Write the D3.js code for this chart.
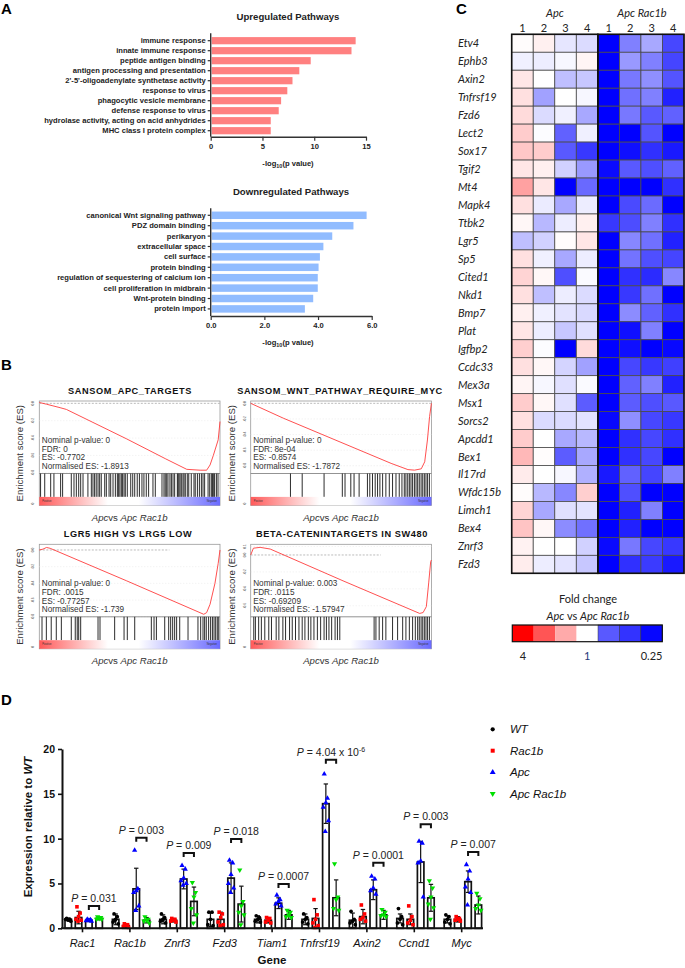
<!DOCTYPE html>
<html><head><meta charset="utf-8">
<script src="https://cdn.jsdelivr.net/npm/d3@7"></script>
<style>body{margin:0;background:#fff}svg{display:block}</style>
</head><body>
<svg id="c" width="685" height="968"></svg>
<script>
// ---------------- DATA ----------------
// Panel A
const upPathways = ["immune response","innate immune response","peptide antigen binding","antigen processing and presentation","2'-5'-oligoadenylate synthetase activity","response to virus","phagocytic vesicle membrane","defense response to virus","hydrolase activity, acting on acid anhydrides","MHC class I protein complex"];
const upValues = [14.0, 13.6, 9.66, 8.56, 7.9, 7.4, 6.8, 6.57, 5.8, 5.8];
const upTicks = [0, 5, 10, 15];
const downPathways = ["canonical Wnt signaling pathway","PDZ domain binding","perikaryon","extracellular space","cell surface","protein binding","regulation of sequestering of calcium ion","cell proliferation in midbrain","Wnt-protein binding","protein import"];
const downValues = [5.81, 5.32, 4.53, 4.2, 4.07, 4.02, 3.99, 3.99, 3.82, 3.51];
const downTicks = [0, 2, 4, 6];

// Panel B (GSEA) - rank position in % of list, enrichment score
const gseaTitles = ["SANSOM_APC_TARGETS","SANSOM_WNT_PATHWAY_REQUIRE_MYC","LGR5 HIGH VS LRG5 LOW","BETA-CATENINTARGETS  IN SW480"];
const gseaStats = [
  ["Nominal p-value: 0","FDR: 0","ES: -0.7702","Normalised ES: -1.8913"],
  ["Nominal p-value: 0","FDR: 8e-04","ES: -0.8574","Normalised ES: -1.7872"],
  ["Nominal p-value: 0","FDR: .0015","ES: -0.77257","Normalised ES: -1.739"],
  ["Nominal p-value: 0.003","FDR: .0115","ES: -0.69209","Normalised ES: -1.57947"]];
const es1X = [0, 4, 11.5, 15, 48.4, 70, 81.6, 89, 92.6, 94.5, 96.3, 99, 100];
const es1Y = [0.01, -0.01, -0.05, -0.07, -0.41, -0.64, -0.76, -0.77, -0.77, -0.71, -0.6, -0.42, -0.21];
const es2X = [0, 18, 77.7, 87, 90.7, 94.4, 96.3, 97.8, 99, 100];
const es2Y = [0, -0.19, -0.77, -0.85, -0.857, -0.84, -0.75, -0.47, -0.17, 0];
const es3X = [0, 2, 4, 6, 48.4, 91, 92.6, 94.5, 97.2, 99, 100];
const es3Y = [0, 0.01, 0.03, 0.02, -0.37, -0.77, -0.75, -0.65, -0.40, -0.16, 0];
const es4X = [0, 1.5, 5.2, 10.8, 51.6, 93.5, 95.4, 97.2, 98.5, 99.6, 100];
const es4Y = [0, 0.08, 0.09, 0.07, -0.31, -0.69, -0.68, -0.61, -0.33, -0.08, -0.06];
const hits1 = [0.7,3.0,6.3,8.1,11.8,12.9,17.7,19.2,20.5,21.8,22.9,24.2,26.9,28.8,29.7,30.6,31.5,32.5,33.4,34.3,36.2,37.1,38.6,39.5,40.8,42.1,43.2,43.9,44.6,45.4,46.1,46.9,47.6,48.7,50.6,51.7,52.8,54.2,55.4,56.8,57.9,59.2,60.5,62.9,64.2,67.9,69.0,69.7,70.5,71.2,72.3,73.1,74.0,74.9,76.4,76.8,77.3,77.9,78.6,79.5,80.1,80.8,81.9,82.7,84.1,85.6,86.3,87.5,88.6,89.7,90.6,91.5,93.4,94.3,95.2,95.8,96.3,97.0,98.0,98.9];
const hits2 = [22.0,28.5,40.6,50.7,52.2,55.4,57.2,60.0,64.6,65.9,67.4,68.9,70.2,71.5,73.0,74.8,76.7,78.5,80.4,82.2,83.7,85.0,85.9,86.9,87.8,88.7,89.6,90.6,91.5,92.4,93.3,94.3,95.2,96.1,97.0,97.9,98.9];
const hits3 = [1.5,3.9,6.6,9.4,12.2,17.7,19.9,21.0,21.8,22.9,32.5,33.6,41.7,46.9,48.7,52.8,62.0,63.5,64.8,69.4,71.6,72.7,73.8,74.9,76.0,77.7,82.3,87.8,89.3,90.6,91.5,92.4,93.7,94.8,95.8,96.7,97.6,98.5,99.3];
const hits4 = [1.7,2.6,4.4,5.9,7.8,10.0,11.5,14.1,15.6,17.8,19.3,21.5,23.0,24.8,26.7,28.5,30.0,31.9,33.3,35.0,36.9,38.7,40.6,41.9,43.3,44.8,46.7,48.0,49.3,68.3,69.3,71.1,73.0,74.8,78.5,81.3,84.1,85.9,87.8,89.6,91.1,92.4,93.3,94.3,95.2,96.1,97.0,97.9,98.9];

// Panel C heatmap: log2 fold change per sample (Apc 1-4, Apc Rac1b 1-4)
const heatGenes = ["Etv4","Ephb3","Axin2","Tnfrsf19","Fzd6","Lect2","Sox17","Tgif2","Mt4","Mapk4","Ttbk2","Lgr5","Sp5","Cited1","Nkd1","Bmp7","Plat","Igfbp2","Ccdc33","Mex3a","Msx1","Sorcs2","Apcdd1","Bex1","Il17rd","Wfdc15b","Limch1","Bex4","Znrf3","Fzd3"];
const heatSamples = ["Apc 1","Apc 2","Apc 3","Apc 4","Apc Rac1b 1","Apc Rac1b 2","Apc Rac1b 3","Apc Rac1b 4"];
const heatValues = [
  [0.02,0.12,-0.2,-0.28,-2,-1,-0.68,-1.44],
  [-0.12,-0.14,-0.06,0.08,-2,-0.8,-1,-1.46],
  [0.2,0,-0.5,-0.44,-2,-1.06,-0.88,-1.34],
  [0.24,-0.74,0,-0.06,-2,-1.12,-1,-1.74],
  [0.28,-0.28,-0.12,-0.68,-2,-1.06,-1.3,-1.24],
  [0.4,-0.02,-1.24,-0.12,-2,-2,-1.34,-2],
  [0.44,0.4,-1.3,-1.56,-2,-1.88,-1.62,-1.8],
  [0.2,0.12,-0.36,-0.8,-1.92,-1.3,-1.38,-1.24],
  [0.74,0.2,-2,-1.18,-2,-2,-2,-1.62],
  [0.24,-0.16,-0.68,-0.14,-2,-1.42,-1.16,-2],
  [0.06,-0.56,-0.14,0.12,-1.56,-1.4,-1,-1.62],
  [-0.5,-0.36,0.02,0.2,-2,-0.94,-1.12,-1.74],
  [0.24,-0.12,-0.68,-0.14,-2,-1.1,-1.38,-1.46],
  [0.34,0.06,-1.38,-0.04,-2,-1.62,-1.66,-0.94],
  [0.24,-0.5,-0.14,-0.28,-2,-1.56,-1.12,-2],
  [0.12,-0.12,-0.22,-0.3,-2,-0.9,-1.24,-1.62],
  [0.2,-0.14,-0.44,-0.24,-2,-1.88,-1,-2],
  [0.38,-0.02,-2,0.28,-2,-1.88,-2,-1.94],
  [0.24,0.06,-0.34,-0.74,-2,-1.44,-1.56,-1.5],
  [0.08,-0.06,-0.24,-0.04,-2,-1.24,-1,-1.74],
  [0.4,0.06,-0.24,-1.28,-2,-1.28,-1.38,-1.3],
  [0.24,-0.28,-0.28,-0.22,-1.94,-0.88,-1.44,-1.56],
  [0.4,0,-0.68,-0.56,-2,-1.62,-1.44,-1.62],
  [0.56,0.02,-1.28,-0.68,-2,-1.62,-1.44,-2],
  [0.16,0,-0.06,-0.62,-1.8,-1.24,-1.46,-1],
  [0.02,-0.56,-0.94,0.38,-2,-1.38,-2,-2],
  [0.34,-0.68,-0.24,-0.22,-2,-1.74,-1,-2],
  [0.46,0.06,-0.9,-1.12,-2,-1.74,-2,-2],
  [0.1,0,0,-0.36,-1.92,-1.06,-1.44,-1.56],
  [0.14,-0.14,-0.22,-0.44,-2,-1.62,-1.54,-1.8]];
const legendSteps = [2, 1.33, 0.67, 0, -1.3, -1.6, -1.95];
const legendLabels = ["4", "1", "0.25"];

// Panel D
const qGenes = ["Rac1","Rac1b","Znrf3","Fzd3","Tiam1","Tnfrsf19","Axin2","Ccnd1","Myc"];
const qSeries = ["WT","Rac1b","Apc","Apc Rac1b"];
const wtMean = [1.0,1.0,1.0,1.0,1.0,1.0,0.9,1.1,1.0];
const rac1bMean = [1.2,0.3,0.9,1.0,0.9,1.1,1.3,1.0,1.0];
const apcMean = [0.9,4.4,5.5,5.6,2.8,13.9,4.3,7.4,5.2];
const apcRac1bMean = [1.1,0.9,3.0,2.7,1.5,3.4,1.5,3.4,2.6];
const wtSD = [0.15,0.6,0.5,0.8,0.4,0.6,0.8,0.5,0.4];
const rac1bSD = [0.7,0.2,0.2,0.8,0.3,1.1,0.8,0.6,0.3];
const apcSD = [0.15,2.3,1.1,1.7,0.6,2.2,1.1,2.3,1.2];
const apcRac1bSD = [0.15,0.3,1.6,2.0,0.5,2.0,0.5,1.5,1.0];
const wtPts = [[1.1,1.0,0.9,1.0,0.8],[1.6,1.3,1.0,0.7,0.5,0.9],[1.6,1.2,1.0,0.8,0.6,0.9],[1.8,1.8,1.0,0.4,0.3],[1.4,1.2,1.0,0.8,0.7],[1.6,1.2,1.0,0.7,0.5],[1.9,1.0,0.8,0.6,0.4],[2.2,1.3,1.0,0.6,0.4],[1.5,1.3,1.0,0.7,0.5]];
const rac1bPts = [[2.4,1.7,1.3,1.0,0.9,0.8],[0.5,0.4,0.3,0.2,0.1],[1.1,1.0,0.9,0.8,0.7],[1.8,1.6,1.2,0.7,0.4,0.3],[1.2,1.1,0.9,0.7,0.6],[3.2,1.5,1.0,0.6,0.3,0.1],[2.6,1.6,1.2,1.0,0.8],[2.5,1.3,0.9,0.6,0.4],[1.3,1.1,1.0,0.9,0.8]];
const apcPts = [[1.0,0.95,0.9,0.85,0.8],[8.7,4.4,4.2,4.0,2.5,2.0],[7.0,6.6,5.6,5.3,5.0,4.8],[7.6,7.3,6.0,5.0,4.5,4.0],[3.7,3.2,3.0,2.7,2.5],[17.2,14.5,14.0,13.5,12.0,10.8],[5.8,5.5,4.5,4.2,3.8],[9.7,9.5,7.5,7.3,3.5],[7.1,6.4,5.5,4.6,4.0,2.6]];
const apcRac1bPts = [[1.3,1.2,1.1,1.0,1.0],[1.3,1.0,0.9,0.8,0.6],[5.1,4.0,3.5,2.2,1.5,0.6],[6.5,3.0,2.5,1.8,1.5,0.4],[2.0,1.8,1.5,1.3,1.2],[7.2,3.5,3.2,2.2,2.0],[2.1,1.8,1.5,1.4,1.3],[5.3,4.5,3.5,2.7,2.3,1.0],[3.9,3.3,2.6,2.2,2.0]];
const qTicks = [0, 5, 10, 15, 20];
const pText = ["0.031","0.003","0.009","0.018","0.0007","4.04 x 10","0.0001","0.003","0.007"];
const pExp = ["","","","","","-6","","",""];
const pBracket = [2.5,10.1,8.4,9.95,4.94,18.8,7.3,11.6,8.5];

// ---------------- DRAWING ----------------
const svg = d3.select("#c");
const SANS = "'Liberation Sans', Arial, sans-serif";
const CAL = "Lato, 'Open Sans', sans-serif";
svg.append("rect").attr("width",685).attr("height",968).attr("fill","#fff");

[["A",1,14],["B",1,370],["C",456,14],["D",1,705]].forEach(([t,x,y]) =>
  svg.append("text").attr("x",x).attr("y",y).text(t).attr("font-family",SANS)
    .attr("font-weight","bold").attr("font-size",15));

// ---- Panel A ----
function pathwayChart(cfg){
  const g = svg.append("g").attr("font-family",SANS);
  const x = d3.scaleLinear().domain([0,cfg.ticks[cfg.ticks.length-1]]).range([210.7,cfg.xRight]);
  const y = d3.scaleBand().domain(cfg.cats).range([cfg.top,cfg.bottom]).paddingInner(0.28).paddingOuter(0.14);
  g.selectAll("rect.bar").data(cfg.vals).join("rect").attr("class","bar")
    .attr("x",x(0)+1).attr("y",(d,i)=>y(cfg.cats[i]))
    .attr("width",d=>x(d)-x(0)-1).attr("height",y.bandwidth()).attr("fill",cfg.color);
  const la = g.append("g").attr("transform",`translate(${x(0)},0)`)
    .call(d3.axisLeft(y).tickSize(3).tickPadding(2).tickSizeOuter(0));
  la.select(".domain").remove();
  la.selectAll("line").attr("stroke","#333").attr("stroke-width",1.2);
  la.selectAll("text").attr("font-size",7.6).attr("font-weight","bold").attr("fill","#222").attr("font-family",SANS);
  g.append("line").attr("x1",x(0)).attr("x2",x(0)).attr("y1",cfg.axisTop).attr("y2",cfg.axisBottom)
    .attr("stroke","#333").attr("stroke-width",1.4);
  const ba = g.append("g").attr("transform",`translate(0,${cfg.axisBottom})`)
    .call(d3.axisBottom(x).tickValues(cfg.ticks).tickSize(4).tickSizeOuter(0).tickPadding(3));
  ba.select(".domain").attr("stroke","#333").attr("stroke-width",1.4);
  ba.selectAll("line").attr("stroke","#333").attr("stroke-width",1.2);
  ba.selectAll("text").attr("font-size",7.6).attr("font-weight","bold").attr("fill","#222").attr("font-family",SANS);
  g.append("text").attr("x",cfg.titleX).attr("y",cfg.titleY).attr("text-anchor","middle")
    .attr("font-size",9.6).attr("font-weight","bold").attr("fill","#222").text(cfg.title);
  const t = g.append("text").attr("x",288).attr("y",cfg.labelY).attr("text-anchor","middle")
    .attr("font-size",7.6).attr("font-weight","bold").attr("fill","#222");
  t.append("tspan").text("-log");
  t.append("tspan").text("10").attr("font-size",5.5).attr("dy",2);
  t.append("tspan").text("(p value)").attr("dy",-2);
}
pathwayChart({cats:upPathways,vals:upValues,ticks:upTicks,xRight:366,top:35.7,bottom:135.7,axisTop:33.3,axisBottom:136.7,color:"#ff8080",title:"Upregulated Pathways",titleX:288,titleY:20,labelY:166});
pathwayChart({cats:downPathways,vals:downValues,ticks:downTicks,xRight:371.7,top:210.1,bottom:314.1,axisTop:208.3,axisBottom:316,color:"#91bcff",title:"Downregulated Pathways",titleX:291,titleY:194.5,labelY:345});

// ---- Panel B ----
const defs = svg.append("defs");
const grad = defs.append("linearGradient").attr("id","rb");
[[0,"#ff5a5a"],[0.38,"#ffffff"],[0.55,"#ffffff"],[1,"#6a6aff"]].forEach(([o,c])=>
  grad.append("stop").attr("offset",o).attr("stop-color",c));

function gsea(cfg){
  const W=180.7,H1=72.5,H2=23.4,H3=8.6;
  const {x0,y0}=cfg;
  const g = svg.append("g").attr("font-family",SANS);
  const x = d3.scaleLinear().domain([0,100]).range([x0,x0+W]);
  const y = d3.scaleLinear().domain(cfg.domain).range([y0+H1,y0]);
  g.append("text").attr("x",cfg.titleX).attr("y",y0-7).attr("text-anchor","middle")
    .attr("font-size",9.2).attr("letter-spacing",0.6).attr("font-weight","bold").attr("fill","#111").text(cfg.title);
  g.append("rect").attr("x",x0).attr("y",y0).attr("width",W).attr("height",H1+H2+H3)
    .attr("fill","#fff").attr("stroke","#999").attr("stroke-width",0.8);
  const tv = [0.1,0,-0.2,-0.4,-0.6,-0.8].filter(v=>v>=cfg.domain[0]&&v<=cfg.domain[1]);
  tv.filter(v=>v!==0).forEach(v=> g.append("line").attr("x1",x0).attr("x2",x0+W)
    .attr("y1",y(v)).attr("y2",y(v)).attr("stroke","#e2e2e2").attr("stroke-width",0.6).attr("stroke-dasharray","1,2"));
  g.append("line").attr("x1",x0).attr("x2",x(cfg.zeroEnd)).attr("y1",y(0)).attr("y2",y(0))
    .attr("stroke","#aaa").attr("stroke-width",0.8).attr("stroke-dasharray","2,1.5");
  tv.forEach(v=> g.append("text").attr("transform",`translate(${x0-5},${y(v)}) rotate(-90)`)
    .attr("text-anchor","middle").attr("font-size",3.2).attr("fill","#444").text(v.toFixed(1)));
  g.append("text").attr("transform",`translate(${x0-5},${y0+H1+H2+H3-2}) rotate(-90)`)
    .attr("text-anchor","middle").attr("font-size",3.2).attr("fill","#444").text("0");
  const line = d3.line().x(d=>x(d[0])).y(d=>y(d[1]));
  g.append("path").datum(cfg.ex.map((v,i)=>[v,cfg.ey[i]])).attr("d",line)
    .attr("fill","none").attr("stroke","#ff3c3c").attr("stroke-width",0.9);
  cfg.stats.forEach((s,i)=> g.append("text").attr("x",x0+2.5).attr("y",y0+42+i*8.7)
    .attr("font-size",8.2).attr("fill","#333").text(s));
  g.append("line").attr("x1",x0).attr("x2",x0+W).attr("y1",y0+H1).attr("y2",y0+H1).attr("stroke","#777").attr("stroke-width",0.8);
  g.selectAll("line.hit").data(cfg.hits).join("line").attr("class","hit")
    .attr("x1",d=>x(d)).attr("x2",d=>x(d)).attr("y1",y0+H1).attr("y2",y0+H1+H2)
    .attr("stroke","#151515").attr("stroke-width",0.9);
  g.append("rect").attr("x",x0).attr("y",y0+H1+H2).attr("width",W).attr("height",H3).attr("fill","url(#rb)");
  g.append("text").attr("x",x0+3).attr("y",y0+H1+H2+5).attr("font-size",2.6).attr("fill","#333").text("Positive");
  g.append("text").attr("x",x0+W-3).attr("y",y0+H1+H2+5).attr("text-anchor","end").attr("font-size",2.6).attr("fill","#333").text("Negative");
  g.append("text").attr("transform",`translate(${x0-16},${y0+(H1+H2+H3)/2}) rotate(-90)`)
    .attr("text-anchor","middle").attr("font-size",9.6).attr("fill","#333").text("Enrichment score (ES)");
  const xl = g.append("text").attr("x",x0+W/2).attr("y",y0+H1+H2+H3+15).attr("text-anchor","middle")
    .attr("font-size",9.6).attr("fill","#333");
  xl.append("tspan").text("Apc").attr("font-style","italic");
  xl.append("tspan").text("vs ");
  xl.append("tspan").text("Apc Rac1b").attr("font-style","italic");
}
gsea({x0:39.3,y0:401,title:gseaTitles[0],titleX:130,stats:gseaStats[0],ex:es1X,ey:es1Y,hits:hits1,domain:[-0.808,0.027],zeroEnd:100});
gsea({x0:250.7,y0:401,title:gseaTitles[1],titleX:340,stats:gseaStats[1],ex:es2X,ey:es2Y,hits:hits2,domain:[-0.90,0.03],zeroEnd:100});
gsea({x0:39.3,y0:544.3,title:gseaTitles[2],titleX:128,stats:gseaStats[2],ex:es3X,ey:es3Y,hits:hits3,domain:[-0.80,0.068],zeroEnd:72});
gsea({x0:250.7,y0:544.3,title:gseaTitles[3],titleX:342,stats:gseaStats[3],ex:es4X,ey:es4Y,hits:hits4,domain:[-0.73,0.126],zeroEnd:72});

// ---- Panel C ----
(function(){
  const g = svg.append("g").attr("font-family",CAL);
  const color = d3.scaleLinear().domain([-2,0,2]).range(["#0000ff","#ffffff","#ff0000"]).clamp(true);
  const x = d3.scaleBand().domain(heatSamples).range([511.7,684]);
  const y = d3.scaleBand().domain(heatGenes).range([34.3,573.3]);
  heatValues.forEach((row,r)=> row.forEach((v,c)=>
    g.append("rect").attr("x",x(heatSamples[c])).attr("y",y(heatGenes[r]))
      .attr("width",x.bandwidth()).attr("height",y.bandwidth())
      .attr("fill",color(v)).attr("stroke","#4a4a4a").attr("stroke-width",0.8)));
  g.append("rect").attr("x",x(heatSamples[0])).attr("y",34.3).attr("width",x.bandwidth()*4).attr("height",539)
    .attr("fill","none").attr("stroke","#111").attr("stroke-width",1.6);
  g.append("rect").attr("x",x(heatSamples[4])).attr("y",34.3).attr("width",x.bandwidth()*4).attr("height",539)
    .attr("fill","none").attr("stroke","#111").attr("stroke-width",1.6);
  heatGenes.forEach(gn=> g.append("text").attr("x",458).attr("y",y(gn)+y.bandwidth()/2+4)
    .attr("font-size",11).attr("font-style","italic").attr("fill","#222").text(gn));
  heatSamples.forEach(s=> g.append("text").attr("x",x(s)+x.bandwidth()/2).attr("y",32)
    .attr("text-anchor","middle").attr("font-size",11).attr("fill","#222").text(s.split(" ").pop()));
  g.append("text").attr("x",555).attr("y",17).attr("text-anchor","middle").attr("font-size",11).attr("font-style","italic").attr("fill","#222").text("Apc");
  g.append("text").attr("x",642).attr("y",17).attr("text-anchor","middle").attr("font-size",11).attr("font-style","italic").attr("fill","#222").text("Apc Rac1b");
  // legend
  g.append("text").attr("x",588).attr("y",603).attr("text-anchor","middle").attr("font-size",11).attr("fill","#222").text("Fold change");
  const lt = g.append("text").attr("x",588).attr("y",620).attr("text-anchor","middle").attr("font-size",11).attr("fill","#222");
  lt.append("tspan").text("Apc").attr("font-style","italic");
  lt.append("tspan").text(" vs ");
  lt.append("tspan").text("Apc Rac1b").attr("font-style","italic");
  const lx = d3.scaleBand().domain(d3.range(legendSteps.length)).range([512.3,662.3]);
  legendSteps.forEach((v,i)=> g.append("rect").attr("x",lx(i)).attr("y",625).attr("width",lx.bandwidth()).attr("height",16.7)
    .attr("fill",color(v)).attr("stroke",i>=4?"#333":"none").attr("stroke-width",0.5));
  g.append("rect").attr("x",512.3).attr("y",625).attr("width",150).attr("height",16.7).attr("fill","none").attr("stroke","#111").attr("stroke-width",1.2);
  [[0,legendLabels[0],"#222"],[3,legendLabels[1],"#1f3a7a"],[6,legendLabels[2],"#222"]].forEach(([i,t,c])=>
    g.append("text").attr("x",lx(i)+lx.bandwidth()/2).attr("y",660).attr("text-anchor","middle")
      .attr("font-size",11).attr("fill",c).text(t));
})();

// ---- Panel D ----
(function(){
  const g = svg.append("g").attr("font-family",SANS);
  const outer = d3.scaleBand().domain(qGenes).range([60,486.6]);
  const inner = d3.scaleBand().domain(qSeries).range([3.1,44.3]);
  const y = d3.scaleLinear().domain([0,20]).range([928.3,749]);
  const means = [wtMean,rac1bMean,apcMean,apcRac1bMean];
  const sds = [wtSD,rac1bSD,apcSD,apcRac1bSD];
  const pts = [wtPts,rac1bPts,apcPts,apcRac1bPts];
  const colors = ["#000000","#ff0000","#0000ff","#00e000"];
  const shapes = [d3.symbolCircle,d3.symbolSquare,d3.symbolTriangle,d3.symbolTriangle];
  const sizes = [11,13,12,12];
  const rot = [0,0,0,180];
  const jit = [-1.6,1.6,0,-2.6,2.6,-0.6];
  const bw = 6.5;
  const cx = (gi,si)=> outer(qGenes[gi])+inner(qSeries[si])+inner.bandwidth()/2;
  // bars
  qSeries.forEach((s,si)=> qGenes.forEach((gn,gi)=>{
    const m = means[si][gi];
    g.append("rect").attr("x",cx(gi,si)-bw/2).attr("y",y(m)).attr("width",bw).attr("height",y(0)-y(m))
      .attr("fill","#fff").attr("stroke","#111").attr("stroke-width",1.7);
  }));
  // error bars
  qSeries.forEach((s,si)=> qGenes.forEach((gn,gi)=>{
    const m = means[si][gi], sd = sds[si][gi], c = cx(gi,si);
    const lo = Math.max(0,m-sd), hi = m+sd;
    g.append("line").attr("x1",c).attr("x2",c).attr("y1",y(lo)).attr("y2",y(hi)).attr("stroke","#111").attr("stroke-width",1.2);
    g.append("line").attr("x1",c-2.2).attr("x2",c+2.2).attr("y1",y(hi)).attr("y2",y(hi)).attr("stroke","#111").attr("stroke-width",1.2);
    if (m-sd>0) g.append("line").attr("x1",c-2.2).attr("x2",c+2.2).attr("y1",y(lo)).attr("y2",y(lo)).attr("stroke","#111").attr("stroke-width",1.2);
  }));
  // points
  qSeries.forEach((s,si)=> qGenes.forEach((gn,gi)=>{
    pts[si][gi].forEach((v,k)=> g.append("path")
      .attr("d",d3.symbol().type(shapes[si]).size(sizes[si])())
      .attr("transform",`translate(${cx(gi,si)+jit[k%jit.length]},${y(v)}) rotate(${rot[si]})`)
      .attr("fill",colors[si]));
  }));
  // axes
  const ya = g.append("g").attr("transform","translate(62,0)")
    .call(d3.axisLeft(y).tickValues(qTicks).tickSize(4).tickSizeOuter(0).tickPadding(3));
  ya.select(".domain").attr("stroke","#111").attr("stroke-width",2);
  ya.selectAll("line").attr("stroke","#111").attr("stroke-width",1.6);
  ya.selectAll("text").attr("font-size",10.5).attr("font-weight","bold").attr("fill","#111").attr("font-family",SANS);
  g.append("line").attr("x1",61).attr("x2",483).attr("y1",y(0)).attr("y2",y(0)).attr("stroke","#111").attr("stroke-width",2);
  qGenes.forEach(gn=>{
    const c = outer(gn)+outer.bandwidth()/2 - 1.2;
    g.append("line").attr("x1",c).attr("x2",c).attr("y1",y(0)).attr("y2",y(0)+4).attr("stroke","#111").attr("stroke-width",1.6);
    g.append("text").attr("x",c).attr("y",947).attr("text-anchor","middle").attr("font-size",11)
      .attr("font-style","italic").attr("fill","#111").text(gn);
  });
  g.append("text").attr("x",272).attr("y",964).attr("text-anchor","middle").attr("font-size",11.5)
    .attr("font-weight","bold").attr("fill","#111").text("Gene");
  const yl = g.append("text").attr("transform","translate(32,827) rotate(-90)").attr("text-anchor","middle")
    .attr("font-size",11.5).attr("font-weight","bold").attr("fill","#111");
  yl.append("tspan").text("Expression relative to ");
  yl.append("tspan").text("WT").attr("font-style","italic");
  // p-value brackets
  qGenes.forEach((gn,gi)=>{
    const a = cx(gi,2), b = cx(gi,3), yy = y(pBracket[gi]);
    g.append("path").attr("d",`M${a},${yy+4}V${yy}H${b}V${yy+4}`).attr("fill","none").attr("stroke","#111").attr("stroke-width",2);
    const t = g.append("text").attr("x",(a+b)/2).attr("y",yy-4).attr("text-anchor","middle").attr("font-size",10.5).attr("fill","#222");
    t.append("tspan").text("P").attr("font-style","italic");
    t.append("tspan").text(" = "+pText[gi]);
    if (pExp[gi]) t.append("tspan").text(pExp[gi]).attr("font-size",7).attr("dy",-4);
  });
  // legend
  const ly = [729.3,750.7,772.3,793.7];
  qSeries.forEach((s,si)=>{
    g.append("path").attr("d",d3.symbol().type(shapes[si]).size(sizes[si]+3)())
      .attr("transform",`translate(492.7,${ly[si]}) rotate(${rot[si]})`).attr("fill",colors[si]);
    g.append("text").attr("x",510).attr("y",ly[si]+4).attr("font-size",11.5).attr("font-style","italic").attr("fill","#111").text(s);
  });
})();
</script>
</body></html>
